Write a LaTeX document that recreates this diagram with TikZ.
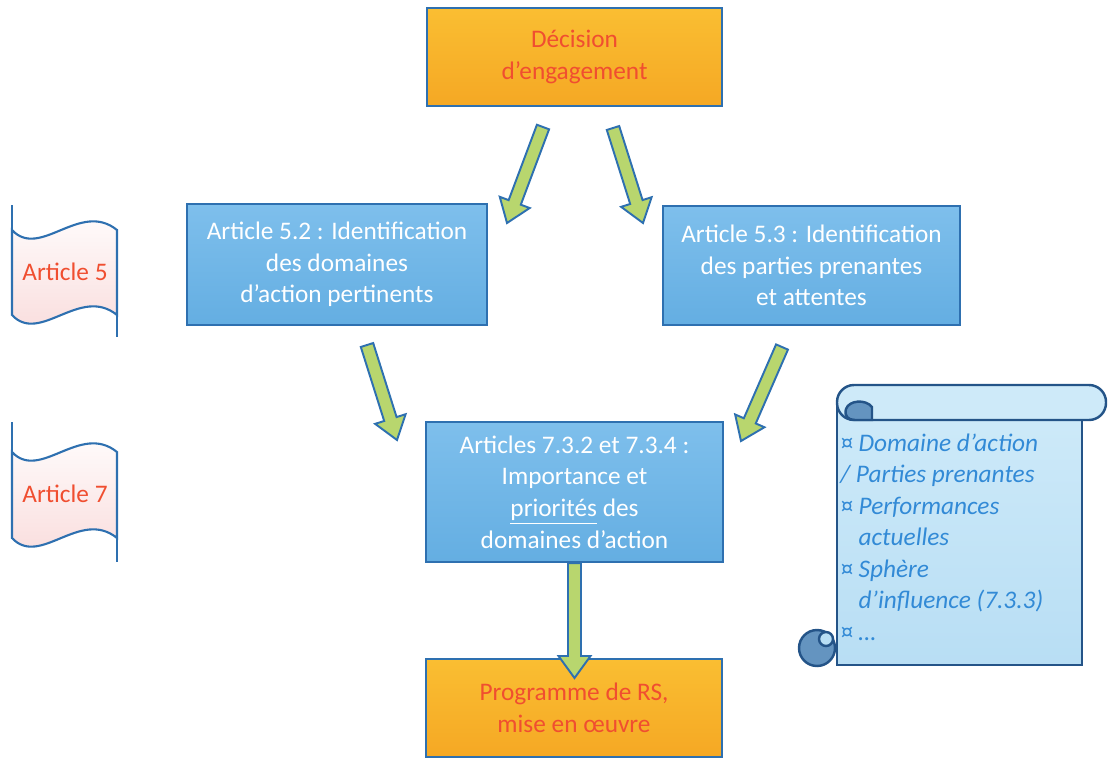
\documentclass[tikz,border=0pt]{standalone}
\usepackage{fontspec}
\setmainfont{Carlito}
\usetikzlibrary{calc}

\definecolor{boxblue}{RGB}{100,174,226}
\definecolor{boxbluetop}{RGB}{126,191,236}
\definecolor{edgeblue}{RGB}{46,112,176}
\definecolor{boxorange}{RGB}{245,168,36}
\definecolor{boxorangetop}{RGB}{250,190,50}
\definecolor{textred}{RGB}{240,78,48}
\definecolor{arrowgreen}{RGB}{184,214,110}
\definecolor{flagpink}{RGB}{249,218,218}
\definecolor{scrolltop}{RGB}{206,234,249}
\definecolor{scrollfill}{RGB}{184,222,244}
\definecolor{scrolldark}{RGB}{100,148,192}
\definecolor{scrolledge}{RGB}{36,84,136}
\definecolor{scrolltext}{RGB}{50,138,214}

\tikzset{
  bluebox/.style={draw=edgeblue, line width=1.2pt, top color=boxbluetop, bottom color=boxblue,
    text=white, align=center, font=\fontsize{14.4}{18}\selectfont, inner sep=0pt},
  orangebox/.style={draw=edgeblue, line width=1.2pt, top color=boxorangetop, bottom color=boxorange,
    text=textred, align=center, font=\fontsize{14.4}{18}\selectfont, inner sep=0pt},
  flowarrow/.style={draw=edgeblue, line width=1.1pt, fill=arrowgreen, line join=miter},
  flagline/.style={draw=edgeblue, line width=1.2pt},
  flagtxt/.style={text=textred, font=\fontsize{14.4}{18}\selectfont},
  scrollline/.style={draw=scrolledge, line width=1.4pt},
  scrolltxt/.style={text=scrolltext, font=\itshape\fontsize{14.4}{17.9}\selectfont, align=left, inner sep=0pt}
}

% block arrow from #1 to #2
\newcommand{\blockarrow}[2]{%
  \coordinate (ah) at ($(#2)!0.44cm!(#1)$);
  \draw[flowarrow] ($(#1)!0.13cm!90:(#2)$) -- ($(ah)!0.13cm!-90:(#1)$) -- ($(ah)!0.32cm!-90:(#1)$)
    -- (#2) -- ($(ah)!0.32cm!90:(#1)$) -- ($(ah)!0.13cm!90:(#1)$) -- ($(#1)!0.13cm!-90:(#2)$) -- cycle;
}

\begin{document}
\begin{tikzpicture}[x=0.02cm, y=-0.02cm]
    \useasboundingbox (0,0) rectangle (1108,758);

    % boxes
    \node[orangebox, minimum width=5.9cm, minimum height=1.96cm] (dec) at (574.5,57) {Décision\\d’engagement};
    \node[bluebox, minimum width=6cm, minimum height=2.42cm] (art52) at (337,264.5) {Article 5.2 : Identification\\des domaines\\d’action pertinents};
    \node[bluebox, minimum width=5.94cm, minimum height=2.38cm] (art53) at (811.5,265.5) {Article 5.3 : Identification\\des parties prenantes\\et attentes};
    \node[bluebox, minimum width=5.94cm, minimum height=2.8cm] (art73) at (574.5,492) {Articles 7.3.2 et 7.3.4 :\\Importance et\\\underline{priorités} des\\domaines d’action};
    \node[orangebox, minimum width=5.92cm, minimum height=1.96cm] (prog) at (574,708) {Programme de RS,\\mise en œuvre};

    % flags
    \draw[flagline, top color=white, bottom color=flagpink] (12,230) .. controls (40,260) and (80,200) .. (117,230)
        -- (117,315) .. controls (80,285) and (40,345) .. (12,315) -- cycle;
    \draw[flagline] (12,205) -- (12,230);
    \draw[flagline] (117,315) -- (117,337);
    \node[flagtxt] (flag5) at (65,272) {Article 5};

    \draw[flagline, top color=white, bottom color=flagpink] (12,452) .. controls (40,482) and (80,422) .. (117,452)
        -- (117,538) .. controls (80,508) and (40,568) .. (12,538) -- cycle;
    \draw[flagline] (12,422) -- (12,452);
    \draw[flagline] (117,538) -- (117,562);
    \node[flagtxt] (flag7) at (65,494) {Article 7};

    % scroll
    \draw[scrollline, top color=scrolltop, bottom color=scrollfill] (837,405) rectangle (1082,665);
    \draw[scrollline, fill=scrolltop, rounded corners=0.34cm] (837,385) rectangle (1106,420);
    \draw[scrollline, fill=scrolldark] (872,420) -- (872,407) .. controls (866,399) and (849,400) .. (846,409)
        .. controls (844,416) and (848,420) .. (855,420) -- cycle;
    \draw[scrollline, fill=scrolldark] (817,648) circle (18);
    \draw[scrollline, fill=scrollfill] (826,639) circle (7);
    \node[scrolltxt, anchor=west] (notes) at (840,537) {¤ Domaine d’action\\/ Parties prenantes\\¤ Performances\\\phantom{¤ }actuelles\\¤ Sphère\\\phantom{¤ }d’influence (7.3.3)\\¤ …};

    % arrows
    \coordinate (a1s) at (543,127);
    \coordinate (a1e) at (507,223);
    \coordinate (a2s) at (613,128);
    \coordinate (a2e) at (643,223);
    \coordinate (a3s) at (367,345);
    \coordinate (a3e) at (397,440);
    \coordinate (a4s) at (782,347);
    \coordinate (a4e) at (741,441);
    \coordinate (a5e) at (574.5,678);

    \blockarrow{a1s}{a1e}
    \blockarrow{a2s}{a2e}
    \blockarrow{a3s}{a3e}
    \blockarrow{a4s}{a4e}
    \blockarrow{art73.south}{a5e}
\end{tikzpicture}
\end{document}
